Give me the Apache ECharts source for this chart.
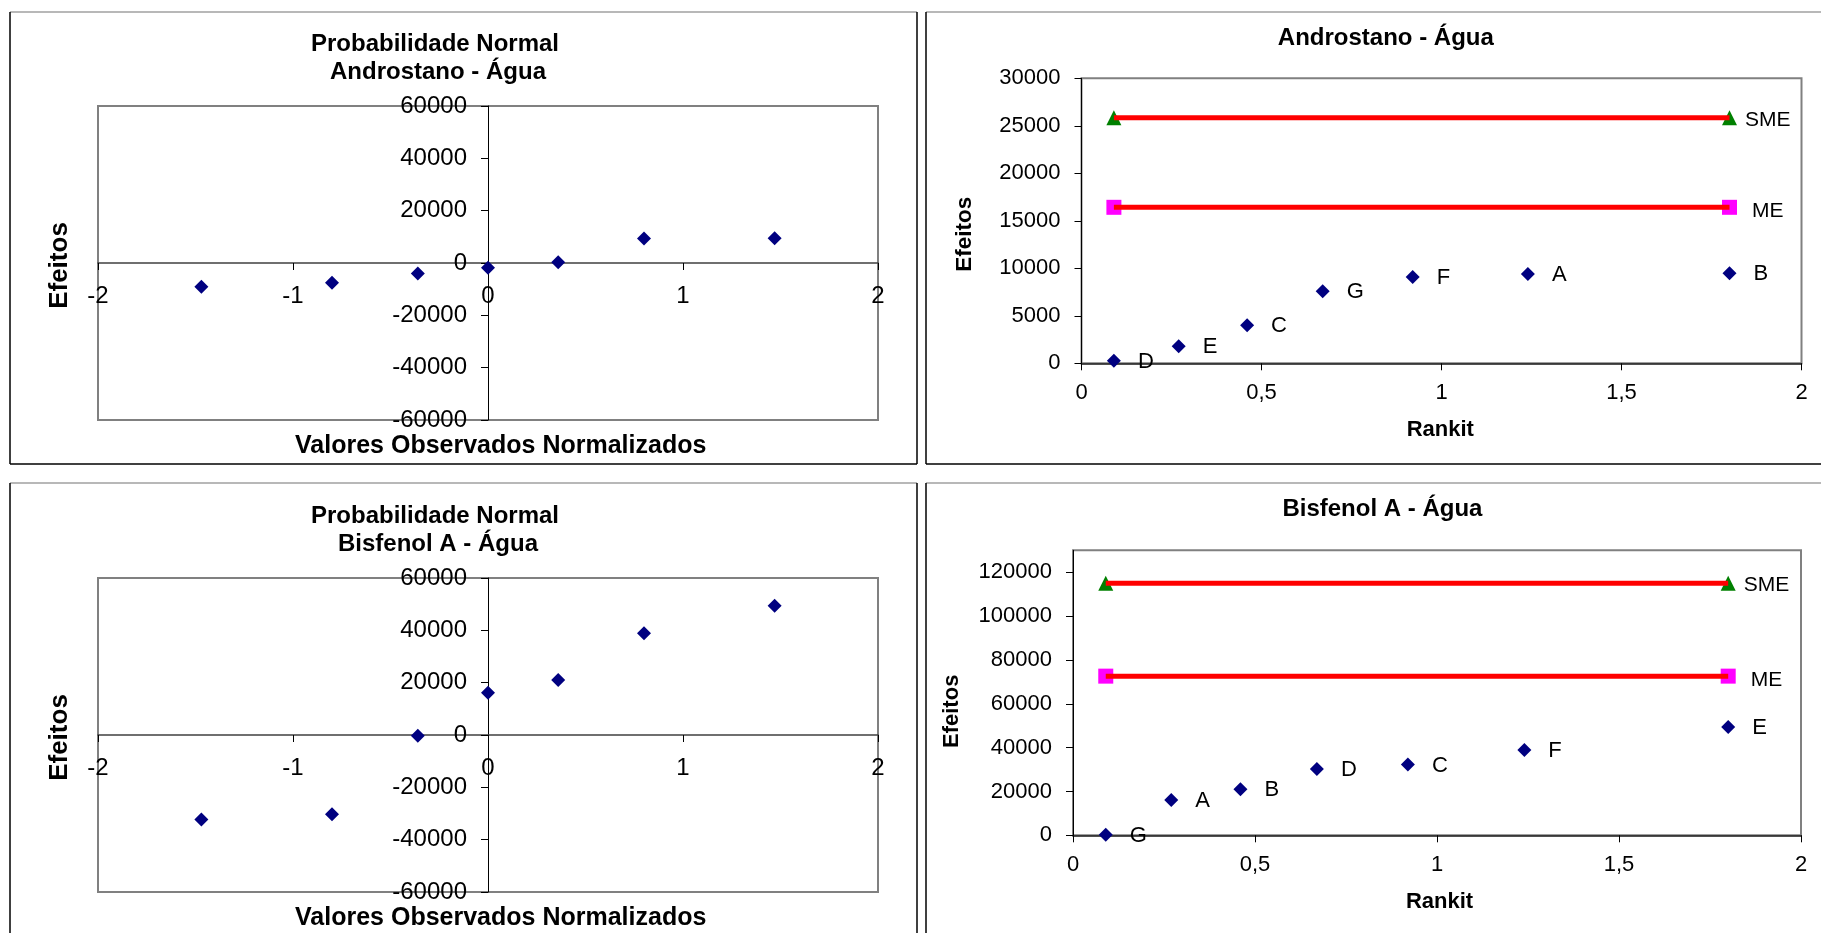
<!DOCTYPE html>
<html>
<head>
<meta charset="utf-8">
<title>Probabilidade Normal e Rankit - Água</title>
<script src="https://cdn.jsdelivr.net/npm/echarts@6.0.0/dist/echarts.min.js"></script>
<style>
  html, body { margin: 0; padding: 0; background: #ffffff; }
  #main { width: 1821px; height: 933px; }
</style>
</head>
<body>
<div id="main"></div>
<script>
// ---- Data ------------------------------------------------------------
// Normal scores (x of the normal-probability plots) and half-normal rankits
const normalScores = [-1.47, -0.80, -0.36, 0, 0.36, 0.80, 1.47];
const rankits = [0.09, 0.27, 0.46, 0.67, 0.92, 1.24, 1.80];

// Androstano - Água
const androstanoEffects = [-9080, -7580, -4000, -1790, 270, 9390, 9470];
const androstanoFactors = ['D', 'E', 'C', 'G', 'F', 'A', 'B'];
const androstanoAbsEffects = [270, 1790, 4000, 7580, 9080, 9390, 9470];
const androstanoME = 16420;
const androstanoSME = 25850;

// Bisfenol A - Água
const bisfenolEffects = [-32250, -30260, -300, 16100, 21000, 38900, 49400];
const bisfenolFactors = ['G', 'A', 'B', 'D', 'C', 'F', 'E'];
const bisfenolAbsEffects = [300, 16100, 21000, 30260, 32250, 38900, 49400];
const bisfenolME = 72600;
const bisfenolSME = 115000;

// Axis tick values
const probXTicks = [-2, -1, 0, 1, 2];
const probYTicks = [-60000, -40000, -20000, 0, 20000, 40000, 60000];
const rankitXTicks = [0, 0.5, 1, 1.5, 2];
const androRankitYTicks = [0, 5000, 10000, 15000, 20000, 25000, 30000];
const bisRankitYTicks = [0, 20000, 40000, 60000, 80000, 100000, 120000];
const bisRankitYMax = 130000;

// ---- Layout ------------------------------------------------------------
const FONT = '"Liberation Sans", Arial, Helvetica, sans-serif';
const NAVY = '#000080';

const gridBoxes = [
  { left: 98, top: 106, width: 780, height: 314 },       // Androstano, normal
  { left: 1081.5, top: 78.3, width: 720, height: 285 },  // Androstano, rankit
  { left: 98, top: 578, width: 780, height: 314 },       // Bisfenol A, normal
  { left: 1073, top: 550.3, width: 728, height: 285 }    // Bisfenol A, rankit
];

function rangeOf(ticks) {
  return { min: ticks[0], max: ticks[ticks.length - 1], interval: ticks[1] - ticks[0] };
}

// Shift that puts an axis across the zero of the other axis (labels move with it)
function zeroShift(ticks, span) {
  const r = rangeOf(ticks);
  return -span * (0 - r.min) / (r.max - r.min);
}

function valueAxis(gridIndex, ticks, opts) {
  const r = rangeOf(ticks);
  const ax = {
    type: 'value',
    gridIndex: gridIndex,
    min: r.min,
    max: opts.max !== undefined ? opts.max : r.max,
    interval: r.interval,
    offset: opts.offset || 0,
    splitLine: { show: false },
    axisLine: { show: true, onZero: false, lineStyle: { color: opts.lineColor || '#000', width: opts.lineWidth || 1 } },
    axisTick: { show: true, inside: false, length: 7, lineStyle: { color: '#000', width: 1 } },
    axisLabel: {
      show: true,
      margin: opts.margin,
      fontSize: opts.fontSize,
      fontFamily: FONT,
      color: '#000',
      formatter: opts.formatter || function (v) { return String(v); }
    }
  };
  if (opts.custom) {
    ax.axisTick.customValues = ticks;
    ax.axisLabel.customValues = ticks;
    const base = ax.axisLabel.formatter;
    ax.axisLabel.formatter = function (v) { return ticks.indexOf(v) >= 0 ? base(v) : ''; };
  }
  return ax;
}

function pairs(xs, ys) {
  return xs.map(function (x, i) { return [x, ys[i]]; });
}

function probSeries(gridIndex, effects) {
  return {
    type: 'scatter',
    xAxisIndex: gridIndex, yAxisIndex: gridIndex,
    symbol: 'diamond', symbolSize: 14,
    itemStyle: { color: NAVY, opacity: 1 },
    data: pairs(normalScores, effects),
    z: 3
  };
}

function rankitSeries(gridIndex, factors, absEffects) {
  return {
    type: 'scatter',
    xAxisIndex: gridIndex, yAxisIndex: gridIndex,
    symbol: 'diamond', symbolSize: 14,
    itemStyle: { color: NAVY, opacity: 1 },
    label: {
      show: true, position: 'right', distance: 17, offset: [0, 1],
      fontSize: 22, fontFamily: FONT, color: '#000',
      formatter: function (p) { return p.name; }
    },
    data: rankits.map(function (x, i) { return { name: factors[i], value: [x, absEffects[i]] }; }),
    z: 3
  };
}

// Reference level (ME / SME): end markers plus a thick red line on top
function levelSeries(gridIndex, level, text, symbol, color, labelDist, labelDy) {
  const x0 = rankits[0], x1 = rankits[rankits.length - 1];
  return [
    {
      type: 'scatter',
      xAxisIndex: gridIndex, yAxisIndex: gridIndex,
      symbol: symbol, symbolSize: 15,
      itemStyle: { color: color, opacity: 1 },
      data: [
        { value: [x0, level] },
        {
          value: [x1, level],
          label: {
            show: true, position: 'right', distance: labelDist, offset: [0, labelDy],
            fontSize: 21, fontFamily: FONT, color: '#000', formatter: text
          }
        }
      ],
      z: 2
    },
    {
      type: 'line',
      xAxisIndex: gridIndex, yAxisIndex: gridIndex,
      showSymbol: false, symbol: 'none',
      lineStyle: { color: '#ff0000', width: 5 },
      data: [[x0, level], [x1, level]],
      silent: true,
      z: 4
    }
  ];
}

function text(x, y, str, font, extra) {
  const el = {
    type: 'text', x: x, y: y, silent: true,
    style: { text: str, font: font, fill: '#000', align: 'center', verticalAlign: 'middle' }
  };
  if (extra) Object.assign(el, extra);
  return el;
}

function hline(x1, x2, y, color, w) {
  return { type: 'line', silent: true, z: 0, shape: { x1: x1, y1: y, x2: x2, y2: y }, style: { stroke: color, lineWidth: w } };
}
function vline(x, y1, y2, color, w) {
  return { type: 'line', silent: true, z: 0, shape: { x1: x, y1: y1, x2: x, y2: y2 }, style: { stroke: color, lineWidth: w } };
}

const gridBase = {
  show: true, borderColor: '#808080', borderWidth: 2,
  backgroundColor: 'transparent', containLabel: false, outerBoundsMode: 'none'
};
const commaFmt = function (v) { return String(v).replace('.', ','); };

const TITLE_FONT = 'bold 24px ' + FONT;

const probXShift0 = zeroShift(probYTicks, gridBoxes[0].height);
const probYShift0 = zeroShift(probXTicks, gridBoxes[0].width);
const probXShift2 = zeroShift(probYTicks, gridBoxes[2].height);
const probYShift2 = zeroShift(probXTicks, gridBoxes[2].width);

const option = {
  animation: false,
  backgroundColor: '#ffffff',
  grid: gridBoxes.map(function (b) { return Object.assign({}, b, gridBase); }),
  xAxis: [
    valueAxis(0, probXTicks, { margin: 21, fontSize: 24, lineColor: '#404040', lineWidth: 1.5, offset: probXShift0 }),
    valueAxis(1, rankitXTicks, { margin: 19, fontSize: 22, lineColor: '#202020', lineWidth: 1.5, formatter: commaFmt }),
    valueAxis(2, probXTicks, { margin: 21, fontSize: 24, lineColor: '#404040', lineWidth: 1.5, offset: probXShift2 }),
    valueAxis(3, rankitXTicks, { margin: 19, fontSize: 22, lineColor: '#202020', lineWidth: 1.5, formatter: commaFmt })
  ],
  yAxis: [
    valueAxis(0, probYTicks, { margin: 21, fontSize: 24, offset: probYShift0 }),
    valueAxis(1, androRankitYTicks, { margin: 21, fontSize: 22 }),
    valueAxis(2, probYTicks, { margin: 21, fontSize: 24, offset: probYShift2 }),
    valueAxis(3, bisRankitYTicks, { margin: 21, fontSize: 22, max: bisRankitYMax, custom: true })
  ],
  series: [].concat(
    [probSeries(0, androstanoEffects)],
    [rankitSeries(1, androstanoFactors, androstanoAbsEffects)],
    levelSeries(1, androstanoSME, 'SME', 'triangle', '#008000', 8, 2),
    levelSeries(1, androstanoME, 'ME', 'rect', '#ff00ff', 15, 4),
    [probSeries(2, bisfenolEffects)],
    [rankitSeries(3, bisfenolFactors, bisfenolAbsEffects)],
    levelSeries(3, bisfenolSME, 'SME', 'triangle', '#008000', 8, 2),
    levelSeries(3, bisfenolME, 'ME', 'rect', '#ff00ff', 15, 4)
  ),
  graphic: [
    // panel frames
    hline(10, 917, 12, '#a0a0a0', 1.5), vline(10, 12, 464, '#000', 1.5),
    vline(917, 12, 464, '#000', 1.5), hline(10, 917, 464, '#000', 1.5),
    hline(926, 1821, 12, '#a0a0a0', 1.5), vline(926, 12, 464, '#000', 1.5),
    hline(926, 1821, 464, '#000', 1.5),
    hline(10, 917, 483, '#a0a0a0', 1.5), vline(10, 483, 933, '#000', 1.5),
    vline(917, 483, 933, '#000', 1.5),
    hline(926, 1821, 483, '#a0a0a0', 1.5), vline(926, 483, 933, '#000', 1.5),

    // Androstano - normal probability
    text(435, 44.7, 'Probabilidade Normal', TITLE_FONT),
    text(438, 72.2, 'Androstano - Água', TITLE_FONT),
    text(60, 265.5, 'Efeitos', 'bold 26px ' + FONT, { rotation: Math.PI / 2 }),
    text(500.7, 446, 'Valores Observados Normalizados', 'bold 25px ' + FONT),

    // Androstano - rankit
    text(1385.8, 38, 'Androstano - Água', TITLE_FONT),
    text(964.7, 234.2, 'Efeitos', 'bold 22.5px ' + FONT, { rotation: Math.PI / 2 }),
    text(1440.3, 430, 'Rankit', 'bold 22px ' + FONT),

    // Bisfenol A - normal probability
    text(435, 516.7, 'Probabilidade Normal', TITLE_FONT),
    text(438, 544.2, 'Bisfenol A - Água', TITLE_FONT),
    text(60, 737.5, 'Efeitos', 'bold 26px ' + FONT, { rotation: Math.PI / 2 }),
    text(500.7, 918, 'Valores Observados Normalizados', 'bold 25px ' + FONT),

    // Bisfenol A - rankit
    text(1382.4, 509.7, 'Bisfenol A - Água', TITLE_FONT),
    text(952, 711.3, 'Efeitos', 'bold 22px ' + FONT, { rotation: Math.PI / 2 }),
    text(1439.5, 902.3, 'Rankit', 'bold 22px ' + FONT)
  ]
};

const chart = echarts.init(document.getElementById('main'), null, { renderer: 'canvas', width: 1821, height: 933 });
chart.setOption(option);
</script>
</body>
</html>
